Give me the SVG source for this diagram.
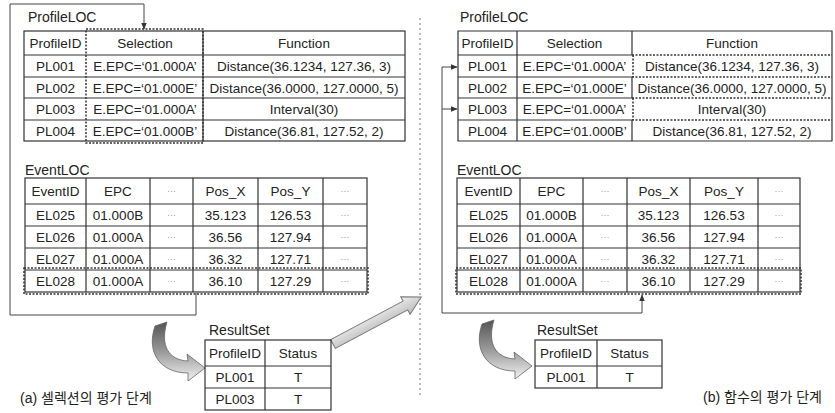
<svg xmlns="http://www.w3.org/2000/svg" width="835" height="413" viewBox="0 0 835 413">
<style>
.t{font-family:"Liberation Sans",Arial,sans-serif;font-size:13.5px;fill:#222;text-anchor:middle}
.lbl{font-family:"Liberation Sans",Arial,sans-serif;font-size:14px;fill:#222}
.cap{font-family:"Liberation Sans","Noto Sans CJK KR",sans-serif;font-size:14px;fill:#222}
.dot{font-family:"Liberation Sans",Arial,sans-serif;font-size:9px;fill:#999;text-anchor:middle}
.g{fill:none;stroke:#333;stroke-width:1.2}
.d{fill:none;stroke:#333;stroke-width:1.5;stroke-dasharray:2 1.5}
.c{fill:none;stroke:#444;stroke-width:1}
</style>
<defs>
<marker id="ah" viewBox="0 0 10 10" refX="9" refY="5" markerWidth="7" markerHeight="7" orient="auto-start-reverse" markerUnits="userSpaceOnUse">
<path d="M0,1 L10,5 L0,9 Z" fill="#333"/>
</marker>
<linearGradient id="sw" x1="0" y1="0" x2="0" y2="1">
<stop offset="0" stop-color="#555"/>
<stop offset="0.5" stop-color="#999"/>
<stop offset="1" stop-color="#f2f2f2"/>
</linearGradient>
<linearGradient id="big" x1="0" y1="0" x2="0" y2="1">
<stop offset="0" stop-color="#eee"/>
<stop offset="1" stop-color="#bbb"/>
</linearGradient>
</defs>

<!-- divider -->
<line x1="420" y1="18" x2="420" y2="396" stroke="#777" stroke-width="1" stroke-dasharray="2 3"/>

<g id="connectors">
<path class="c" d="M196,293 V315 H10 V4 H144 V29" marker-end="url(#ah)"/>
<path class="c" d="M642,295 V313 H442 V67 H457" marker-start="url(#ah)" marker-end="url(#ah)"/>
<path class="c" d="M442,109 H457" marker-end="url(#ah)"/>
<path id="swoosh-a" d="M167,322 C160,345 168,360 188,361 L187,354 L205,368 L188,381 L188,373 C160,373 146,352 155,326 Z" fill="url(#sw)" stroke="#666" stroke-width="0.8"/>
<path id="swoosh-b" transform="translate(327,-2)" d="M167,322 C160,345 168,360 188,361 L187,354 L205,368 L188,381 L188,373 C160,373 146,352 155,326 Z" fill="url(#sw)" stroke="#666" stroke-width="0.8"/>
<path id="big-arrow" transform="translate(333,344) rotate(-28)" d="M0,-5 H82 V-10 L100,0 L82,10 V5 H0 Z" fill="url(#big)" stroke="#777" stroke-width="1"/>
</g>

<!-- LEFT: ProfileLOC -->
<g id="left-profileloc">
<text class="lbl" x="28" y="22">ProfileLOC</text>
<rect class="g" x="24" y="31" width="381" height="110"/>
<path class="g" d="M24,55 H405 M24,77 H405 M24,98 H405 M24,120 H405 M203,31 V141"/>
<rect class="d" x="86" y="29" width="117" height="114"/>
<text class="t" x="55.5" y="48">ProfileID</text>
<text class="t" x="145" y="48">Selection</text>
<text class="t" x="304" y="48">Function</text>
<text class="t" x="55.5" y="71">PL001</text>
<text class="t" x="145" y="71">E.EPC=‘01.000A’</text>
<text class="t" x="304" y="71">Distance(36.1234, 127.36, 3)</text>
<text class="t" x="55.5" y="92.5">PL002</text>
<text class="t" x="145" y="92.5">E.EPC=‘01.000E’</text>
<text class="t" x="304" y="92.5">Distance(36.0000, 127.0000, 5)</text>
<text class="t" x="55.5" y="114">PL003</text>
<text class="t" x="145" y="114">E.EPC=‘01.000A’</text>
<text class="t" x="304" y="114">Interval(30)</text>
<text class="t" x="55.5" y="135.5">PL004</text>
<text class="t" x="145" y="135.5">E.EPC=‘01.000B’</text>
<text class="t" x="304" y="135.5">Distance(36.81, 127.52, 2)</text>
</g>

<!-- LEFT: EventLOC -->
<g id="left-eventloc">
<text class="lbl" x="25" y="175">EventLOC</text>
<rect class="g" x="25" y="178" width="342" height="114"/>
<path class="g" d="M25,204 H367 M25,226 H367 M25,248 H367 M25,270 H367 M86,178 V292 M150,178 V292 M193,178 V292 M258,178 V292 M323,178 V292"/>
<rect class="d" x="24" y="268" width="344" height="26"/>
<text class="t" x="55.5" y="196">EventID</text>
<text class="t" x="118" y="196">EPC</text>
<text class="dot" x="171.5" y="194">···</text>
<text class="t" x="225.5" y="196">Pos_X</text>
<text class="t" x="290.5" y="196">Pos_Y</text>
<text class="dot" x="345" y="194">···</text>
<text class="t" x="55.5" y="220">EL025</text>
<text class="t" x="118" y="220">01.000B</text>
<text class="dot" x="171.5" y="218">···</text>
<text class="t" x="225.5" y="220">35.123</text>
<text class="t" x="290.5" y="220">126.53</text>
<text class="dot" x="345" y="218">···</text>
<text class="t" x="55.5" y="242">EL026</text>
<text class="t" x="118" y="242">01.000A</text>
<text class="dot" x="171.5" y="240">···</text>
<text class="t" x="225.5" y="242">36.56</text>
<text class="t" x="290.5" y="242">127.94</text>
<text class="dot" x="345" y="240">···</text>
<text class="t" x="55.5" y="264">EL027</text>
<text class="t" x="118" y="264">01.000A</text>
<text class="dot" x="171.5" y="262">···</text>
<text class="t" x="225.5" y="264">36.32</text>
<text class="t" x="290.5" y="264">127.71</text>
<text class="dot" x="345" y="262">···</text>
<text class="t" x="55.5" y="286">EL028</text>
<text class="t" x="118" y="286">01.000A</text>
<text class="dot" x="171.5" y="284">···</text>
<text class="t" x="225.5" y="286">36.10</text>
<text class="t" x="290.5" y="286">127.29</text>
<text class="dot" x="345" y="284">···</text>
</g>

<!-- LEFT: ResultSet -->
<g id="left-resultset">
<text class="lbl" x="209" y="335">ResultSet</text>
<rect class="g" x="205" y="340" width="126" height="70"/>
<path class="g" d="M205,366 H331 M205,388 H331 M265,340 V410"/>
<text class="t" x="235" y="358">ProfileID</text>
<text class="t" x="298" y="358">Status</text>
<text class="t" x="235" y="382">PL001</text>
<text class="t" x="298" y="382">T</text>
<text class="t" x="235" y="404">PL003</text>
<text class="t" x="298" y="404">T</text>
</g>

<text id="caption-a" class="cap" x="20" y="403">(a) 셀렉션의 평가 단계</text>

<!-- RIGHT: ProfileLOC -->
<g id="right-profileloc">
<text class="lbl" x="460" y="22">ProfileLOC</text>
<path class="g" d="M458,31 H832 V141 H458 Z M458,55 H632 M458,77 H632 M458,98 H632 M458,120 H632 M517,31 V141 M632,31 V55 M632,77 V98 M632,120 V141"/>
<path class="d" d="M632,55 H832 M632,77 H832 M632,98 H832 M632,120 H832 M633,55 V77 M633,98 V120"/>
<text class="t" x="487.5" y="48">ProfileID</text>
<text class="t" x="574.5" y="48">Selection</text>
<text class="t" x="732" y="48">Function</text>
<text class="t" x="487.5" y="71">PL001</text>
<text class="t" x="574.5" y="71">E.EPC=‘01.000A’</text>
<text class="t" x="732" y="71">Distance(36.1234, 127.36, 3)</text>
<text class="t" x="487.5" y="92.5">PL002</text>
<text class="t" x="574.5" y="92.5">E.EPC=‘01.000E’</text>
<text class="t" x="732" y="92.5">Distance(36.0000, 127.0000, 5)</text>
<text class="t" x="487.5" y="114">PL003</text>
<text class="t" x="574.5" y="114">E.EPC=‘01.000A’</text>
<text class="t" x="732" y="114">Interval(30)</text>
<text class="t" x="487.5" y="135.5">PL004</text>
<text class="t" x="574.5" y="135.5">E.EPC=‘01.000B’</text>
<text class="t" x="732" y="135.5">Distance(36.81, 127.52, 2)</text>
</g>

<!-- RIGHT: EventLOC -->
<g id="right-eventloc">
<text class="lbl" x="457" y="175">EventLOC</text>
<rect class="g" x="457" y="178" width="343" height="114"/>
<path class="g" d="M457,204 H800 M457,226 H800 M457,248 H800 M457,270 H800 M520,178 V292 M583,178 V292 M627,178 V292 M690,178 V292 M758,178 V292"/>
<rect class="d" x="456" y="268" width="345" height="26"/>
<text class="t" x="488.5" y="196">EventID</text>
<text class="t" x="551.5" y="196">EPC</text>
<text class="dot" x="605" y="194">···</text>
<text class="t" x="658.5" y="196">Pos_X</text>
<text class="t" x="724" y="196">Pos_Y</text>
<text class="dot" x="779" y="194">···</text>
<text class="t" x="488.5" y="220">EL025</text>
<text class="t" x="551.5" y="220">01.000B</text>
<text class="dot" x="605" y="218">···</text>
<text class="t" x="658.5" y="220">35.123</text>
<text class="t" x="724" y="220">126.53</text>
<text class="dot" x="779" y="218">···</text>
<text class="t" x="488.5" y="242">EL026</text>
<text class="t" x="551.5" y="242">01.000A</text>
<text class="dot" x="605" y="240">···</text>
<text class="t" x="658.5" y="242">36.56</text>
<text class="t" x="724" y="242">127.94</text>
<text class="dot" x="779" y="240">···</text>
<text class="t" x="488.5" y="264">EL027</text>
<text class="t" x="551.5" y="264">01.000A</text>
<text class="dot" x="605" y="262">···</text>
<text class="t" x="658.5" y="264">36.32</text>
<text class="t" x="724" y="264">127.71</text>
<text class="dot" x="779" y="262">···</text>
<text class="t" x="488.5" y="286">EL028</text>
<text class="t" x="551.5" y="286">01.000A</text>
<text class="dot" x="605" y="284">···</text>
<text class="t" x="658.5" y="286">36.10</text>
<text class="t" x="724" y="286">127.29</text>
<text class="dot" x="779" y="284">···</text>
</g>

<!-- RIGHT: ResultSet -->
<g id="right-resultset">
<text class="lbl" x="537" y="335">ResultSet</text>
<rect class="g" x="535" y="340" width="127" height="48"/>
<path class="g" d="M535,366 H662 M597,340 V388"/>
<text class="t" x="566" y="358">ProfileID</text>
<text class="t" x="629.5" y="358">Status</text>
<text class="t" x="566" y="382">PL001</text>
<text class="t" x="629.5" y="382">T</text>
</g>

<text id="caption-b" class="cap" x="822" y="402" text-anchor="end">(b) 함수의 평가 단계</text>
</svg>
